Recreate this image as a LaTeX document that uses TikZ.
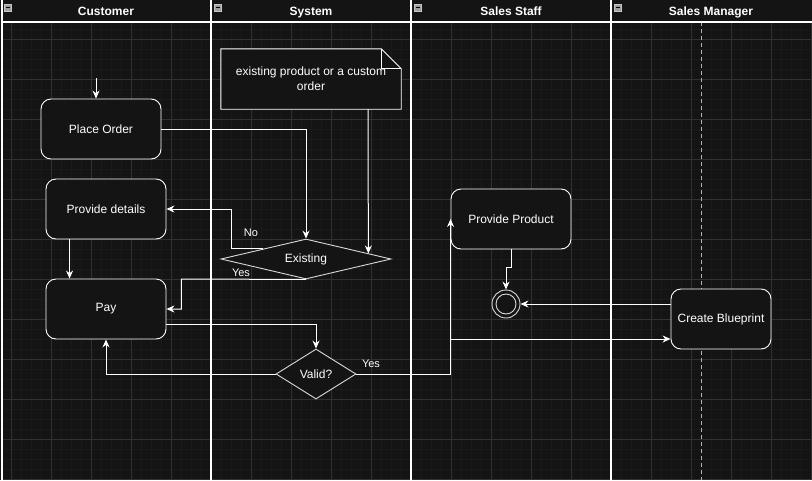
\documentclass[tikz,border=0pt]{standalone}
\usepackage{fontspec}
\setmainfont{Liberation Sans}
\usetikzlibrary{shapes.geometric,arrows.meta,calc}
\definecolor{bg}{HTML}{141414}
\definecolor{gminor}{HTML}{1A1A1A}
\definecolor{gmajor}{HTML}{313131}
\begin{document}
\begin{tikzpicture}[x=1pt,y=-1pt,
  box/.style={draw=white, fill=bg, rounded corners=10pt, minimum width=120pt, minimum height=60pt, inner sep=0pt, font=\fontsize{12}{14}\selectfont, text=white, line width=0.9pt},
  dia/.style={draw=white!85!black, fill=bg, diamond, inner sep=0pt, font=\fontsize{12}{14}\selectfont, text=white, line width=0.9pt},
  arr/.style={draw=white, line width=1pt, -{Stealth[length=8pt,width=7pt]}},
  lbl/.style={text=white, font=\fontsize{11}{13}\selectfont, inner sep=0pt},
  head/.style={text=white, font=\bfseries\fontsize{12}{14}\selectfont, inner sep=0pt, anchor=base},
  lane/.style={draw=white, line width=1.2pt},
  icon/.style={fill=gray!75, draw=gray!45, line width=0.6pt}
]
\useasboundingbox (0,0) rectangle (812,480);
\fill[bg] (0,0) rectangle (812,480);
% grid
\foreach \x in {1,11,...,811} \draw[gminor, line width=0.6pt] (\x,22) -- (\x,480);
\foreach \y in {29,39,...,479} \draw[gminor, line width=0.6pt] (2,\y) -- (812,\y);
\foreach \x in {11,51,...,811} \draw[gmajor, line width=0.8pt] (\x,22) -- (\x,480);
\foreach \y in {39,79,...,479} \draw[gmajor, line width=0.8pt] (2,\y) -- (812,\y);
\draw[gray!60, line width=0.8pt, dash pattern=on 4pt off 3pt] (701,22) -- (701,480);
% lanes
\draw[lane] (2,0) -- (2,480);
\draw[lane] (211,0) -- (211,480);
\draw[lane] (411,0) -- (411,480);
\draw[lane] (611,0) -- (611,480);
\draw[lane] (2,22) -- (812,22);
% headers
\foreach \x in {4,214,414,614} {
  \draw[icon] (\x,4) rectangle ++(7,7);
  \draw[black, line width=1pt] ($(\x,7.5)+(1.5,0)$) -- ++(4,0);
}
\node[head] (h1) at (106,15.5) {Customer};
\node[head] (h2) at (311,15.5) {System};
\node[head] (h3) at (511,15.5) {Sales Staff};
\node[head] (h4) at (711,15.5) {Sales Manager};
% nodes
\node[box] (po) at (101,129) {Place Order};
\node[box] (pd) at (106,209) {Provide details};
\node[box] (pay) at (106,309) {Pay};
\node[box] (pp) at (511,219) {Provide Product};
\node[box, minimum width=100pt] (cb) at (721,319) {Create Blueprint};
\node[minimum width=180pt, minimum height=60pt, inner sep=0pt] (note) at (311,79) {};
\draw[draw=white, fill=bg, line width=0.9pt] (note.south west) -- (note.north west) -- ($(note.north east)+(-20,0)$) -- ($(note.north east)+(0,20)$) -- (note.south east) -- cycle;
\draw[draw=white, line width=0.7pt] ($(note.north east)+(-20,0)$) -- ($(note.north east)+(-20,20)$) -- ($(note.north east)+(0,20)$);
\node[align=center, text=white, font=\fontsize{12}{15}\selectfont, inner sep=0pt] (notetext) at (311,79) {existing product or a custom\\order};
\node[dia, aspect=4.25, minimum width=170pt, minimum height=40pt] (ex) at (306,259) {Existing};
\node[dia, aspect=1.6, minimum width=80pt, minimum height=50pt] (va) at (316,374) {Valid?};
\node[circle, draw=white!85!black, fill=bg, minimum size=28pt, inner sep=0pt, line width=0.9pt] (fin) at (506,304) {};
\draw[white!85!black, line width=0.9pt] (fin.center) circle (10pt);
\coordinate (st) at (96,78);
\coordinate (br) at ($(cb.west)+(0,20)$);
% connectors
\draw[arr] (st) -- (st |- po.north);
\draw[arr] (po.east) -| (ex.north);
\draw[arr] ($(note.south)+(57,0)$) -- ($(ex.north)!0.73!(ex.east)$);
\draw[arr] (ex.north west) -- ($(ex.north west)+(-31.5,0)$) |- (pd.east);
\node[lbl] (lno) at (251,233) {No};
\draw[arr] (ex.south) -- ($(pay.east)+(15,-30)$) -- ($(pay.east)+(15,0)$) -- (pay.east);
\node[lbl] (lyes1) at (241,273) {Yes};
\draw[arr] ($(pd.south west)+(24,0)$) -- ($(pay.north west)+(24,0)$);
\draw[arr] ($(pay.east)+(0,15)$) -| (va.north);
\draw[arr] (va.west) -| (pay.south);
\draw[arr] (va.east) -| (pp.west);
\node[lbl] (lyes2) at (371,364) {Yes};
\draw[arr] (br -| pp.west) -- (br);
\draw[arr] (pp.south) -- ++(0,18) -| (fin.north);
\draw[arr] ($(cb.west)+(0,-15)$) -- (fin.east);
\end{tikzpicture}
\end{document}
